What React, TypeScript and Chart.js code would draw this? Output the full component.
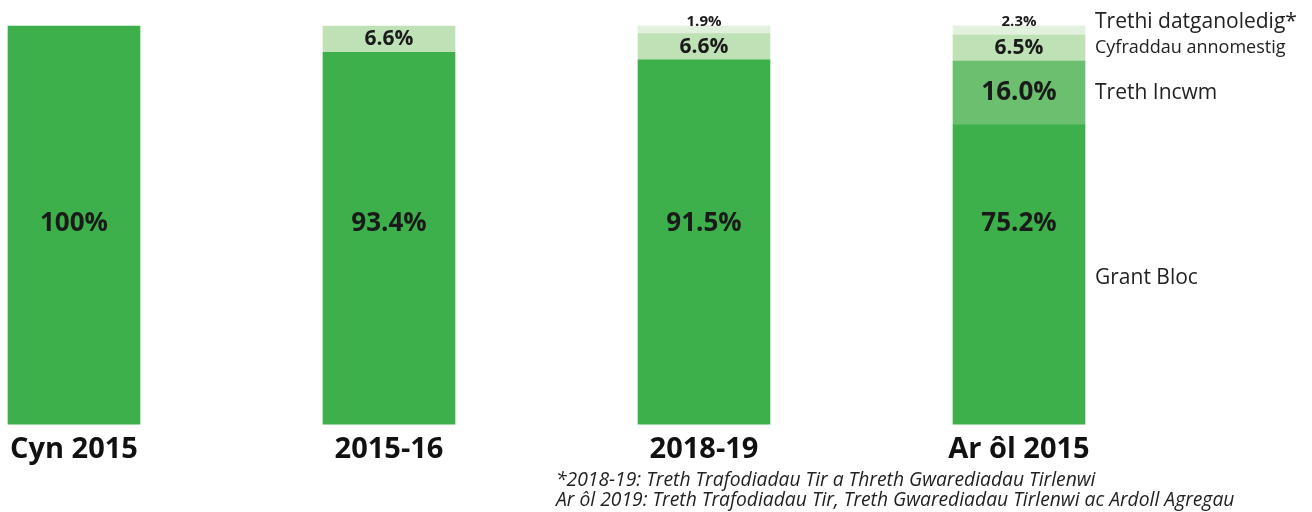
import React, { useEffect, useRef } from "react";
import { Chart, registerables } from "chart.js";

Chart.register(...registerables);

const categories = ["Cyn 2015", "2015-16", "2018-19", "Ar ôl 2015"];
const seriesNames = ["Grant Bloc", "Treth Incwm", "Cyfraddau annomestig", "Trethi datganoledig*"];
const grantBloc = [100, 93.4, 91.5, 75.2];
const trethIncwm = [null, null, null, 16.0];
const cyfraddau = [null, 6.6, 6.6, 6.5];
const trethiDatganoledig = [null, null, 1.9, 2.3];
const valueLabels = [
  ["100%", "93.4%", "91.5%", "75.2%"],
  ["", "", "", "16.0%"],
  ["", "6.6%", "6.6%", "6.5%"],
  ["", "", "1.9%", "2.3%"],
];
const footnotes = [
  "*2018-19: Treth Trafodiadau Tir a Threth Gwarediadau Tirlenwi",
  "Ar ôl 2019: Treth Trafodiadau Tir, Treth Gwarediadau Tirlenwi ac Ardoll Agregau",
];

const colors = ["#3EB04B", "#6BBF6E", "#BFE1B6", "#E2F1DD"];
const FONT = "'Open Sans', 'Noto Sans', sans-serif";

const labelPlugin = {
  id: "segLabels",
  afterDatasetsDraw(chart: any) {
    const ctx = chart.ctx;
    const yScale = chart.scales.y;
    ctx.save();
    ctx.textAlign = "center";
    ctx.textBaseline = "middle";
    ctx.fillStyle = "#1a1a1a";
    chart.data.datasets.forEach((ds: any, di: number) => {
      const meta = chart.getDatasetMeta(di);
      meta.data.forEach((bar: any, i: number) => {
        const v = ds.data[i];
        const txt = valueLabels[di][i];
        if (v == null || !txt) return;
        let y: number;
        let size: number;
        if (di === 0) {
          y = yScale.getPixelForValue(50) - 2;
          size = 26;
        } else if (v < 3) {
          y = bar.y - 4;
          size = 15;
        } else if (v < 10) {
          y = (bar.y + bar.base) / 2;
          size = 21;
        } else {
          y = (bar.y + bar.base) / 2;
          size = 26;
        }
        ctx.font = `bold ${size}px ${FONT}`;
        ctx.fillText(txt, bar.x, y);
      });
    });
    // series names on the right of the last bar
    const last = categories.length - 1;
    const right = chart.getDatasetMeta(0).data[last];
    const xText = right.x + right.width / 2 + 10;
    ctx.textAlign = "left";
    ctx.fillStyle = "#222";
    chart.data.datasets.forEach((ds: any, di: number) => {
      const bar = chart.getDatasetMeta(di).data[last];
      let y = (bar.y + bar.base) / 2;
      let size = 21;
      if (di === 3) {
        y = bar.y - 4;
        size = 21;
      } else if (di === 2) {
        size = 18;
      } else if (di === 0) {
        y = y + 4;
      }
      ctx.font = `${size}px ${FONT}`;
      ctx.fillText(seriesNames[di], xText, y);
    });
    ctx.restore();
  },
};

export default function App() {
  const ref = useRef<HTMLCanvasElement>(null);
  useEffect(() => {
    if (!ref.current) return;
    const data = [grantBloc, trethIncwm, cyfraddau, trethiDatganoledig];
    const chart = new Chart(ref.current, {
      type: "bar",
      data: {
        labels: categories,
        datasets: data.map((d, i) => ({
          label: seriesNames[i],
          data: d as any,
          backgroundColor: colors[i],
          borderWidth: 0,
          barThickness: 132,
          stack: "s",
          clip: false as any,
        })),
      },
      options: {
        animation: false,
        responsive: true,
        maintainAspectRatio: false,
        layout: { padding: { left: 74, right: 293, top: 26, bottom: 37 } },
        plugins: { legend: { display: false }, tooltip: { enabled: false } },
        scales: {
          x: {
            stacked: true,
            offset: false,
            grid: { display: false, drawTicks: false },
            border: { display: false },
            ticks: {
              padding: 8,
              color: "#111",
              font: { family: FONT, size: 29, weight: "bold" },
              maxRotation: 0,
              autoSkip: false,
            },
          },
          y: {
            stacked: true,
            min: 0,
            max: 100,
            display: false,
          },
        },
      },
      plugins: [labelPlugin],
    });
    return () => chart.destroy();
  }, []);
  return (
    <div style={{ position: "absolute", left: 0, top: 0, width: 1312, height: 512, background: "#fff" }}>
      <canvas ref={ref} />
      <div
        style={{
          position: "absolute",
          left: 556,
          top: 469,
          fontFamily: FONT,
          fontStyle: "italic",
          fontSize: 19.3,
          lineHeight: "19.5px",
          color: "#222",
          whiteSpace: "nowrap",
        }}
      >
        {footnotes.map((f) => (
          <div key={f}>{f}</div>
        ))}
      </div>
    </div>
  );
}
